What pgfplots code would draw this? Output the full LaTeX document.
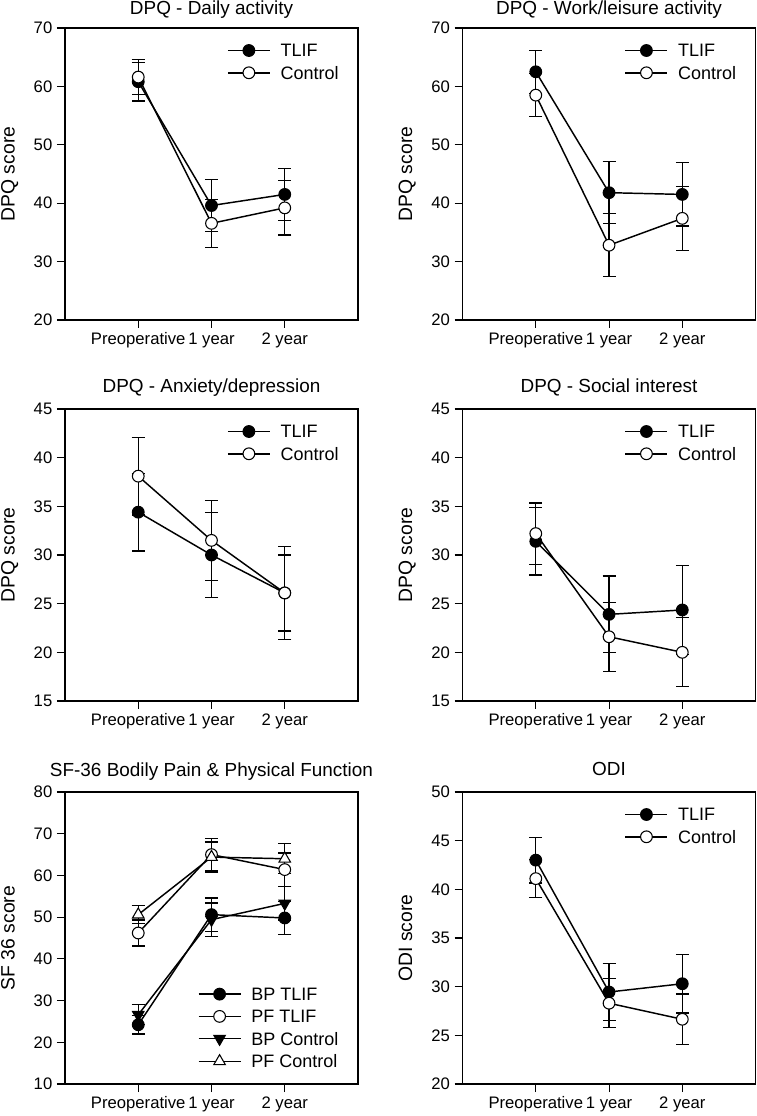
\documentclass[border=0pt]{standalone}
\usepackage{fontspec}
\setmainfont{Liberation Sans}
\usepackage{pgfplots}
\pgfplotsset{compat=1.18}

\pgfplotsset{
 panel/.style={
  scale only axis, width=219.75pt, height=219pt, anchor=south west,
  xmin=-1, xmax=3, xtick={0,1,2}, xticklabels={Preoperative,1 year,2 year},
  tick align=outside, tick pos=left, major tick length=6pt,
  axis line style={line width=0.8pt, black},
  major tick style={line width=0.8pt, black},
  tick label style={font=\fontsize{12.5}{15}\selectfont},
  /pgf/number format/assume math mode=true,
  title style={font=\fontsize{14.2}{17}\selectfont, at={(axis description cs:0.5,1)}, anchor=base, yshift=6pt},
  ylabel style={font=\fontsize{14.5}{17}\selectfont, at={(axis description cs:-0.172,0.5)}, anchor=base},
  legend cell align=left,
  legend style={draw=none, fill=none, inner sep=0pt, outer sep=0pt,
    font=\fontsize{13.5}{16}\selectfont, row sep=7pt, column sep=7.5pt,
    nodes={inner sep=0pt, text height=9.7pt, text depth=0pt},
    at={(axis description cs:0.934,0.945)}, anchor=north east},
  legend image code/.code={\draw[mark repeat=2,mark phase=2,#1] plot coordinates {(0pt,0pt) (15.75pt,0pt) (31.5pt,0pt)};},
 },
 toprow/.style={title style={yshift=-1.8pt}},
 eb/.style={error bars/.cd, y dir=both, y explicit,
   error bar style={line width=0.9pt, black},
   error mark options={rotate=90, mark size=4.9pt, line width=0.9pt, black}},
 tlif/.style={black, line width=1.1pt, mark=*, mark size=4.4pt, mark options={fill=black, draw=black, line width=0.8pt}, eb},
 ctrl/.style={black, line width=1.1pt, mark=*, mark size=4.4pt, mark options={fill=white, draw=black, line width=0.8pt}, eb},
 bpc/.style={black, line width=1.1pt, mark=triangle*, mark size=5pt, mark options={fill=black, draw=black, line width=0.8pt, rotate=180}, eb},
 pfc/.style={black, line width=1.1pt, mark=triangle*, mark size=5pt, mark options={fill=white, draw=black, line width=0.8pt}, eb},
}

\begin{document}
\begin{tikzpicture}
\useasboundingbox (0,0) rectangle (567pt,837pt);

% Panel 1
\begin{axis}[panel, toprow, at={(48.75pt,597pt)}, ymin=20, ymax=70, ytick={20,30,...,70},
  title={DPQ - Daily activity}, ylabel={DPQ score}]
\addplot[tlif] coordinates {(0,60.8) +- (0,3.3) (1,39.6) +- (0,4.5) (2,41.5) +- (0,4.5)};
\addlegendentry{TLIF}
\addplot[ctrl] coordinates {(0,61.6) +- (0,2.95) (1,36.55) +- (0,4.1) (2,39.2) +- (0,4.65)};
\addlegendentry{Control}
\end{axis}

% Panel 2
\begin{axis}[panel, toprow, at={(346.9pt,597pt)}, ymin=20, ymax=70, ytick={20,30,...,70},
  title={DPQ - Work/leisure activity}, ylabel={DPQ score}]
\addplot[tlif] coordinates {(0,62.5) +- (0,3.7) (1,41.8) +- (0,5.3) (2,41.5) +- (0,5.4)};
\addlegendentry{TLIF}
\addplot[ctrl] coordinates {(0,58.5) +- (0,3.7) (1,32.8) +- (0,5.4) (2,37.4) +- (0,5.5)};
\addlegendentry{Control}
\end{axis}

% Panel 3
\begin{axis}[panel, at={(48.75pt,311.25pt)}, ymin=15, ymax=45, ytick={15,20,...,45},
  title={DPQ - Anxiety/depression}, ylabel={DPQ score}]
\addplot[tlif] coordinates {(0,34.4) +- (0,4.0) (1,30.0) +- (0,4.4) (2,26.1) +- (0,4.8)};
\addlegendentry{TLIF}
\addplot[ctrl] coordinates {(0,38.1) +- (0,4.0) (1,31.5) +- (0,4.1) (2,26.1) +- (0,3.9)};
\addlegendentry{Control}
\end{axis}

% Panel 4
\begin{axis}[panel, at={(346.9pt,311.25pt)}, ymin=15, ymax=45, ytick={15,20,...,45},
  title={DPQ - Social interest}, ylabel={DPQ score}]
\addplot[tlif] coordinates {(0,31.4) +- (0,3.45) (1,23.9) +- (0,3.95) (2,24.35) +- (0,4.55)};
\addlegendentry{TLIF}
\addplot[ctrl] coordinates {(0,32.2) +- (0,3.15) (1,21.6) +- (0,3.55) (2,20.0) +- (0,3.55)};
\addlegendentry{Control}
\end{axis}

% Panel 5
\begin{axis}[panel, at={(48.75pt,24pt)}, ymin=10, ymax=80, ytick={10,20,...,80},
  title={SF-36 Bodily Pain \& Physical Function}, ylabel={SF 36 score},
  legend style={at={(axis description cs:0.933,0.0555)}, anchor=south east}]
\addplot[tlif] coordinates {(0,24.2) +- (0,2.2) (1,50.6) +- (0,4.0) (2,49.8) +- (0,4.0)};
\addlegendentry{BP TLIF}
\addplot[ctrl] coordinates {(0,46.2) +- (0,3.1) (1,65.0) +- (0,3.8) (2,61.4) +- (0,4.0)};
\addlegendentry{PF TLIF}
\addplot[bpc] coordinates {(0,26.6) +- (0,2.4) (1,49.4) +- (0,4.0) (2,53.3) +- (0,4.0)};
\addlegendentry{BP Control}
\addplot[pfc] coordinates {(0,50.6) +- (0,2.2) (1,64.4) +- (0,3.6) (2,64.0) +- (0,3.6)};
\addlegendentry{PF Control}
\end{axis}

% Panel 6
\begin{axis}[panel, at={(346.9pt,24pt)}, ymin=20, ymax=50, ytick={20,25,...,50},
  title={ODI}, ylabel={ODI score}]
\addplot[tlif] coordinates {(0,43.0) +- (0,2.35) (1,29.45) +- (0,2.9) (2,30.3) +- (0,3.0)};
\addlegendentry{TLIF}
\addplot[ctrl] coordinates {(0,41.1) +- (0,1.95) (1,28.3) +- (0,2.5) (2,26.65) +- (0,2.6)};
\addlegendentry{Control}
\end{axis}
\end{tikzpicture}
\end{document}
